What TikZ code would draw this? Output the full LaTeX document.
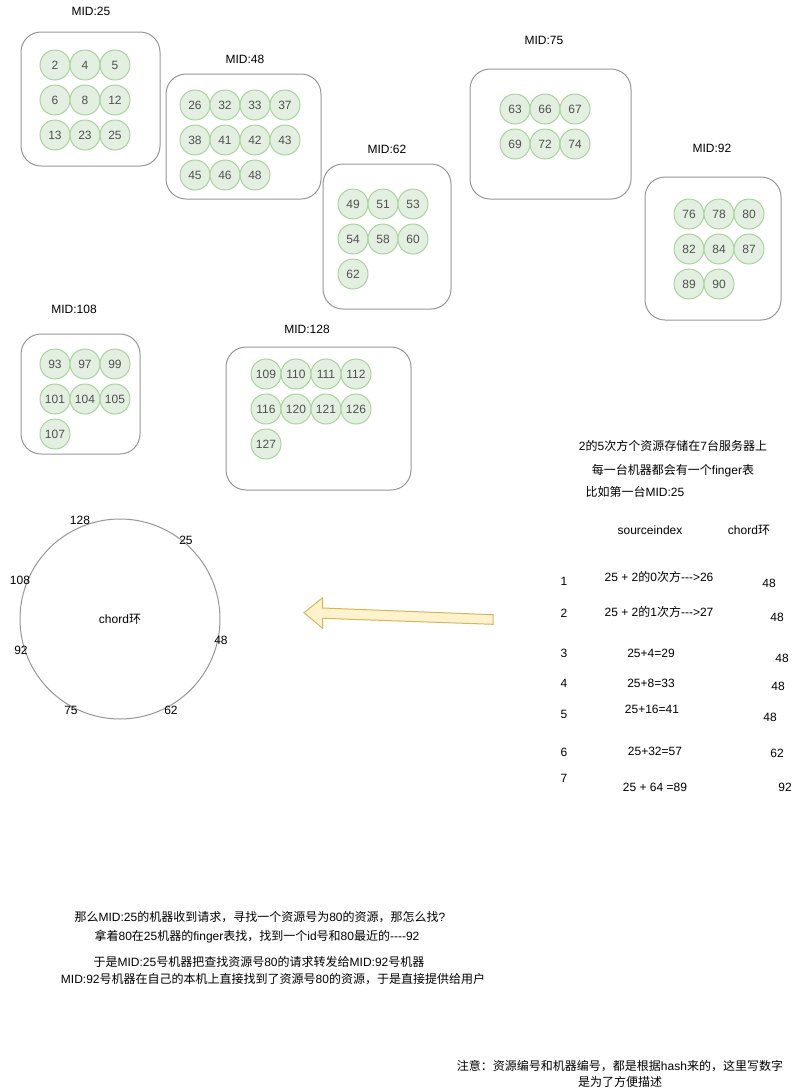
\documentclass[tikz,border=0pt]{standalone}
\usepackage{fontspec}
\setmainfont{Liberation Sans}
\newfontfamily\cjk{Noto Sans CJK SC}
% switch to the CJK font for Chinese characters and back for the rest
\XeTeXinterchartokenstate=1
\newXeTeXintercharclass\cjkclass
\count255="4E00
\loop\XeTeXcharclass\count255=\cjkclass \advance\count255 by 1 \ifnum\count255<"A000 \repeat
\count255="3000
\loop\XeTeXcharclass\count255=\cjkclass \advance\count255 by 1 \ifnum\count255<"3040 \repeat
\count255="FF00
\loop\XeTeXcharclass\count255=\cjkclass \advance\count255 by 1 \ifnum\count255<"FFF0 \repeat
\XeTeXinterchartoks 0 \cjkclass={\cjk}
\XeTeXinterchartoks 4095 \cjkclass={\cjk}
\XeTeXinterchartoks \cjkclass 0={\rmfamily}
\XeTeXinterchartoks \cjkclass 4095={\rmfamily}

\definecolor{boxgray}{RGB}{150,150,150}
\definecolor{resfill}{RGB}{227,239,225}
\definecolor{resline}{RGB}{168,212,156}
\definecolor{restext}{RGB}{80,80,80}
\definecolor{arrfill}{RGB}{255,242,204}
\definecolor{arrline}{RGB}{214,182,86}

\tikzset{
  box/.style={draw=boxgray, line width=0.75pt, rounded corners=15pt},
  res/.style={circle, draw=resline, fill=resfill, line width=0.75pt, minimum size=22.5pt, inner sep=0pt, text=restext},
  lbl/.style={inner sep=1pt, font=\fontsize{9}{11}\selectfont},
}

\begin{document}
\begin{tikzpicture}[x=0.75pt, y=-0.75pt, every node/.style={font=\fontsize{9}{11}\selectfont}]
  \useasboundingbox (0,0) rectangle (800,1090);

  % machines and their resources
  \draw[box] (21,32) rectangle (160,166);   \node[lbl] (mid25) at (91,11) {MID:25};
  \draw[box] (166,74) rectangle (321,199);  \node[lbl] (mid48) at (245,59) {MID:48};
  \draw[box] (323,164) rectangle (451,309); \node[lbl] (mid62) at (387,149) {MID:62};
  \draw[box] (470,69) rectangle (631,199);  \node[lbl] (mid75) at (544,40) {MID:75};
  \draw[box] (645,177) rectangle (781,320); \node[lbl] (mid92) at (712,148) {MID:92};
  \draw[box] (21,334) rectangle (140,454);  \node[lbl] (mid108) at (74,309) {MID:108};
  \draw[box] (226,347) rectangle (411,490); \node[lbl] (mid128) at (307,329) {MID:128};

  \foreach \v [count=\i from 0] in {2,4,5,6,8,12,13,23,25}
    \node[res] (r\v) at ({55+30*mod(\i,3)},{65+35*int(\i/3)}) {\v};
  \foreach \v [count=\i from 0] in {26,32,33,37,38,41,42,43,45,46,48}
    \node[res] (r\v) at ({195+30*mod(\i,4)},{105+35*int(\i/4)}) {\v};
  \foreach \v [count=\i from 0] in {49,51,53,54,58,60,62}
    \node[res] (r\v) at ({353+30*mod(\i,3)},{204+35*int(\i/3)}) {\v};
  \foreach \v [count=\i from 0] in {63,66,67,69,72,74}
    \node[res] (r\v) at ({515+30*mod(\i,3)},{109+35*int(\i/3)}) {\v};
  \foreach \v [count=\i from 0] in {76,78,80,82,84,87,89,90}
    \node[res] (r\v) at ({689+30*mod(\i,3)},{214+35*int(\i/3)}) {\v};
  \foreach \v [count=\i from 0] in {93,97,99,101,104,105,107}
    \node[res] (r\v) at ({55+30*mod(\i,3)},{364+35*int(\i/3)}) {\v};
  \foreach \v [count=\i from 0] in {109,110,111,112,116,120,121,126,127}
    \node[res] (r\v) at ({266+30*mod(\i,4)},{374+35*int(\i/4)}) {\v};

  % the ring
  \node[circle, draw=boxgray, line width=0.75pt, minimum size=150pt, inner sep=0pt] (ring) at (120,619) {chord环};
  \node[lbl] (p128) at (80,520) {128};
  \node[lbl] (p25) at (186,540) {25};
  \node[lbl] (p108) at (20,580) {108};
  \node[lbl] (p48) at (221,640) {48};
  \node[lbl] (p92) at (21,650) {92};
  \node[lbl] (p75) at (71,710) {75};
  \node[lbl] (p62) at (171,710) {62};

  % big arrow pointing at the ring
  \draw[draw=arrline, fill=arrfill, line width=0.75pt, line join=miter]
    (493,614.7) -- (322.7,608) -- (322.7,597.7) -- (304,612.7)
    -- (322.7,628.3) -- (322.7,618.3) -- (493,624.3) -- cycle;

  % finger table
  \node[lbl] (t1) at (673,446) {2的5次方个资源存储在7台服务器上};
  \node[lbl] (t2) at (673,471) {每一台机器都会有一个finger表};
  \node[lbl] (t3) at (635,492) {比如第一台MID:25};
  \node[lbl] (hsrc) at (650,530) {sourceindex};
  \node[lbl] (hchord) at (749,530) {chord环};

  \node[lbl] (n1) at (564,581) {1};
  \node[lbl] (n2) at (564,613) {2};
  \node[lbl] (n3) at (564,653) {3};
  \node[lbl] (n4) at (564,683) {4};
  \node[lbl] (n5) at (564,714) {5};
  \node[lbl] (n6) at (564,752) {6};
  \node[lbl] (n7) at (564,778) {7};

  \node[lbl] (s1) at (659,577) {25 + 2的0次方-{}-{}->26};
  \node[lbl] (s2) at (659,612) {25 + 2的1次方-{}-{}->27};
  \node[lbl] (s3) at (651,653) {25+4=29};
  \node[lbl] (s4) at (651,683) {25+8=33};
  \node[lbl] (s5) at (652,709) {25+16=41};
  \node[lbl] (s6) at (655,751) {25+32=57};
  \node[lbl] (s7) at (655,787) {25 + 64 =89};

  \node[lbl] (c1) at (769,583) {48};
  \node[lbl] (c2) at (777,617) {48};
  \node[lbl] (c3) at (782,658) {48};
  \node[lbl] (c4) at (778,686) {48};
  \node[lbl] (c5) at (770,717) {48};
  \node[lbl] (c6) at (777,753) {62};
  \node[lbl] (c7) at (785,787) {92};

  % how a lookup goes
  \node[lbl] (q1) at (260,917) {那么MID:25的机器收到请求，寻找一个资源号为80的资源，那怎么找?};
  \node[lbl] (q2) at (257,937) {拿着80在25机器的finger表找，找到一个id号和80最近的-{}-{}-{}-92};
  \node[lbl] (q3) at (259,962) {于是MID:25号机器把查找资源号80的请求转发给MID:92号机器};
  \node[lbl] (q4) at (273,979) {MID:92号机器在自己的本机上直接找到了资源号80的资源，于是直接提供给用户};

  \node[lbl, align=center, font=\fontsize{9}{12.5}\selectfont] (note) at (620,1074)
    {注意：资源编号和机器编号，都是根据hash来的，这里写数字\\是为了方便描述};
\end{tikzpicture}
\end{document}
